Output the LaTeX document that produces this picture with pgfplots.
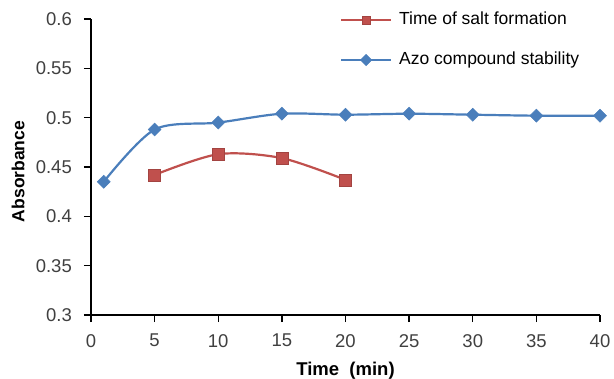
\documentclass[border=0pt]{standalone}
\usepackage{pgfplots}
\pgfplotsset{compat=1.18}
\usepackage{fontspec}
\setmainfont{Liberation Sans}
\definecolor{exred}{HTML}{C0504D}
\definecolor{exblue}{HTML}{4A7EBB}
\definecolor{ticktext}{HTML}{404040}
\begin{document}
\fontsize{18bp}{21bp}\selectfont
\begin{tikzpicture}[x=1bp,y=1bp]
\begin{axis}[
  scale only axis,
  width=509bp, height=296bp,
  xmin=0, xmax=40, ymin=0.3, ymax=0.6,
  xtick={0,5,...,40},
  ytick={0.3,0.35,...,0.61},
  yticklabel style={/pgf/number format/fixed,/pgf/number format/precision=2, xshift=-6bp},
  xticklabel style={yshift=-6bp},
  /pgf/number format/assume math mode=true,
  axis x line*=bottom, axis y line*=left,
  axis line style={line width=1.5bp, -},
  tick style={black, line width=1.3bp},
  tick align=outside,
  major tick length=7bp,
  xlabel={\textbf{Time\ \ (min)}},
  ylabel={\textbf{Absorbance}},
  xlabel style={at={(axis description cs:0.5,-0.2027)}, anchor=base, font=\fontsize{18.5bp}{21bp}\selectfont},
  ylabel style={at={(axis description cs:-0.1434,0.485)}, anchor=center, font=\fontsize{17.5bp}{21bp}\selectfont},
  tick label style={font=\fontsize{18.5bp}{21bp}\selectfont, color=ticktext},
  legend style={draw=none, fill=none, at={(axis description cs:0.4892,0.929)}, anchor=west,
    inner sep=0pt, outer sep=0pt,
    nodes={inner sep=0pt, text height=13bp, text depth=4bp},
    font=\fontsize{17.5bp}{21bp}\selectfont, row sep=23bp, column sep=0pt,
    /tikz/every odd column/.append style={column sep=7bp}},
  legend cell align=left,
  legend image code/.code={
    \draw[#1, line width=2.2bp, mark size=4bp, mark repeat=2, mark phase=2] plot coordinates {(0bp,0bp) (25bp,0bp) (50bp,0bp)};},
  clip=false,
]
\addplot[exred, line width=2.2bp, smooth, mark=square*, mark size=6bp, mark options={solid, fill=exred, draw=exred!85!black, line width=0.5bp}]
 coordinates {(5,0.442) (10,0.463) (15,0.459) (20,0.437)};
\addlegendentry{Time of salt formation}
\addplot[exblue, line width=2.2bp, smooth, mark=square*, mark size=4.6bp, mark options={solid, rotate=45, fill=exblue, draw=exblue, line width=0.5bp}]
 coordinates {(1,0.435) (5,0.488) (10,0.495) (15,0.504) (20,0.503) (25,0.504) (30,0.503) (35,0.502) (40,0.502)};
\addlegendentry{Azo compound stability}
\end{axis}
\pgfresetboundingbox
\path[use as bounding box] ([shift={(-91bp,-64bp)}]current axis.south west) rectangle ([shift={(14bp,19bp)}]current axis.north east);
\end{tikzpicture}
\end{document}
